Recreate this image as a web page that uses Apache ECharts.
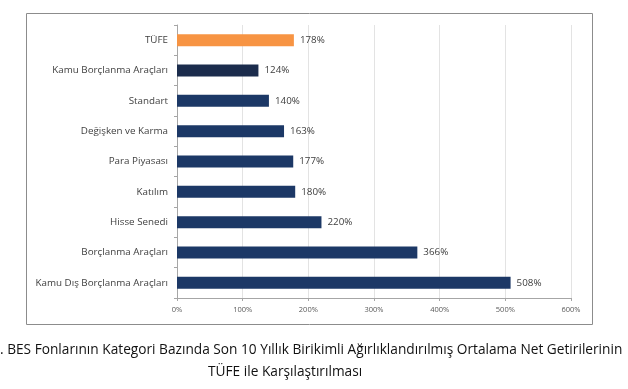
<!DOCTYPE html>
<html><head><meta charset="utf-8">
<script src="https://cdn.jsdelivr.net/npm/echarts@6/dist/echarts.min.js"></script>
<style>html,body{margin:0;padding:0;background:#fff;}#c{width:628px;height:389px;}</style>
</head><body><div id="c"></div>
<script>
var categories = ["TÜFE","Kamu Borçlanma Araçları","Standart","Değişken ve Karma","Para Piyasası","Katılım","Hisse Senedi","Borçlanma Araçları","Kamu Dış Borçlanma Araçları"];
var values = [178,124,140,163,177,180,220,366,508];
var xTicks = [0,100,200,300,400,500,600];
var captionLine1 = ". BES Fonlarının Kategori Bazında Son 10 Yıllık Birikimli Ağırlıklandırılmış Ortalama Net Getirilerinin";
var captionLine2 = "TÜFE ile Karşılaştırılması";

var barColors = ["#f79443","#1b2c4c","#1c3866","#1c3866","#1c3866","#1c3866","#1c3866","#1c3866","#1c3866"];
var chart = echarts.init(document.getElementById('c'));
chart.setOption({
  animation:false,
  graphic:[
    {type:'rect',shape:{x:26.5,y:13.5,width:566,height:311},style:{fill:'none',stroke:'#8c8c8c',lineWidth:1},z:0},
    {type:'text',x:0,y:343,style:{text:captionLine1,font:'13.7px "Open Sans"',fill:'#111'}},
    {type:'text',x:208,y:365,style:{text:captionLine2,font:'13.7px "Open Sans"',fill:'#111'}}
  ],
  grid:{left:177,right:57,top:25,bottom:91},
  xAxis:{type:'value',min:0,max:600,interval:100,
    axisLine:{show:true,lineStyle:{color:'#a6a6a6'}},
    axisTick:{show:true,length:3,lineStyle:{color:'#a6a6a6'}},
    axisLabel:{formatter:function(v){return v+'%';},fontSize:7.5,color:'#595959',fontFamily:'Open Sans',margin:8},
    splitLine:{show:true,lineStyle:{color:'#e3e3e3'}}},
  yAxis:{type:'category',data:categories,inverse:true,
    axisLine:{show:true,lineStyle:{color:'#a6a6a6'}},
    axisTick:{show:true,length:3,lineStyle:{color:'#a6a6a6'}},
    axisLabel:{fontSize:9.8,color:'#404040',fontFamily:'Open Sans',margin:9}},
  series:[{type:'bar',data:values,barWidth:12,
    itemStyle:{color:function(p){return barColors[p.dataIndex];}},
    label:{show:true,position:'right',distance:6,formatter:function(p){return p.value+'%';},fontSize:9.8,color:'#404040',fontFamily:'Open Sans'}}]
});
</script></body></html>
